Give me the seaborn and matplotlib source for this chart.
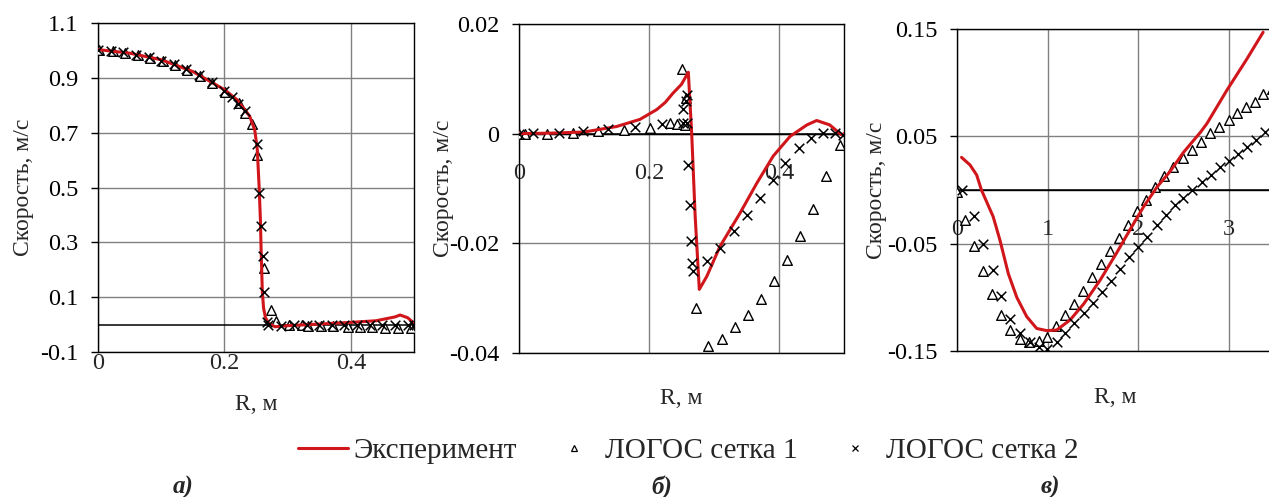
import numpy as np
import pandas as pd
import matplotlib
matplotlib.use("Agg")
import matplotlib.pyplot as plt
import seaborn as sns
from matplotlib.lines import Line2D

# ---------------- data ----------------
# а) radial profile, 0..0.5 m
a_exp_r = [0.0, 0.05, 0.1, 0.15, 0.2, 0.22, 0.24, 0.248, 0.252, 0.255, 0.257, 0.258,
           0.259, 0.26, 0.262, 0.265, 0.27, 0.28, 0.3, 0.35, 0.4, 0.44, 0.47, 0.478,
           0.49, 0.5]
a_exp_v = [1.003, 0.99, 0.966, 0.923, 0.857, 0.82, 0.76, 0.71, 0.64, 0.50, 0.38, 0.28,
           0.20, 0.12, 0.06, 0.025, 0.005, -0.008, -0.004, 0.002, 0.008, 0.014, 0.028, 0.035,
           0.025, 0.005]
a_g1_r = [0.002, 0.024, 0.043, 0.063, 0.083, 0.103, 0.122, 0.141, 0.162, 0.181, 0.201,
          0.223, 0.233, 0.243, 0.252, 0.263, 0.273, 0.282, 0.303, 0.323, 0.332, 0.353,
          0.372, 0.396, 0.414, 0.434, 0.454, 0.474, 0.496]
a_g1_v = [1.0, 0.997, 0.99, 0.984, 0.972, 0.96, 0.948, 0.93, 0.908, 0.88, 0.85,
          0.81, 0.77, 0.73, 0.62, 0.205, 0.052, 0.013, -0.003, -0.003, -0.005, -0.005,
          -0.006, -0.007, -0.008, -0.01, -0.012, -0.013, -0.013]
a_g2_r = [0.0, 0.02, 0.04, 0.06, 0.08, 0.1, 0.12, 0.14, 0.16, 0.18, 0.2, 0.212, 0.222,
          0.232, 0.2517, 0.2554, 0.258, 0.2607, 0.2633, 0.267, 0.2686, 0.29, 0.31, 0.33,
          0.35, 0.37, 0.39, 0.41, 0.43, 0.45, 0.47, 0.49, 0.5]
a_g2_v = [1.0, 0.998, 0.993, 0.985, 0.975, 0.963, 0.95, 0.932, 0.91, 0.884, 0.853, 0.83,
          0.806, 0.78, 0.66, 0.48, 0.36, 0.25, 0.12, 0.01, -0.003, -0.004, -0.003, -0.002,
          -0.002, -0.001, 0.0, 0.0, 0.0, 0.0, 0.0, 0.0, 0.0]

# б) radial profile, 0..0.5 m
b_exp_r = [0.0, 0.05, 0.1, 0.15, 0.186, 0.212, 0.225, 0.237, 0.25, 0.2605, 0.2657, 0.271,
           0.2774, 0.289, 0.309, 0.34, 0.366, 0.391, 0.417, 0.443, 0.458, 0.478, 0.496, 0.5]
b_exp_v = [0.0, 0.0001, 0.0003, 0.0013, 0.0026, 0.0044, 0.0057, 0.0074, 0.009, 0.0112, 0.0,
           -0.015, -0.0284, -0.026, -0.0206, -0.0145, -0.009, -0.0041, -0.0005, 0.0016,
           0.0024, 0.0016, -0.0002, 0.0]
b_g1_r = [0.0, 0.009, 0.043, 0.083, 0.121, 0.161, 0.2015, 0.232, 0.243, 0.251, 0.255,
          0.257, 0.272, 0.291, 0.312, 0.332, 0.352, 0.372, 0.392, 0.413, 0.433, 0.453,
          0.473, 0.494]
b_g1_v = [0.0, -0.0001, 0.0, 0.0002, 0.0004, 0.0007, 0.001, 0.002, 0.0017, 0.0118, 0.0015,
          0.0065, -0.0318, -0.0387, -0.0374, -0.0353, -0.033, -0.0302, -0.0268, -0.0231,
          -0.0186, -0.0137, -0.0078, -0.002]
b_g2_r = [0.0, 0.022, 0.062, 0.099, 0.137, 0.178, 0.2195, 0.252, 0.253, 0.257, 0.258,
          0.258, 0.2605, 0.263, 0.2646, 0.2657, 0.268, 0.289, 0.309, 0.33, 0.35, 0.37,
          0.39, 0.409, 0.43, 0.449, 0.467, 0.486, 0.499]
b_g2_v = [0.0, 0.0001, 0.0002, 0.0004, 0.0008, 0.0012, 0.0018, 0.002, 0.0045, 0.006,
          0.0071, 0.002, -0.0057, -0.013, -0.0196, -0.0236, -0.0251, -0.0233, -0.0208,
          -0.0178, -0.0149, -0.0117, -0.0084, -0.0053, -0.0026, -0.0008, 0.0001, 0.0001,
          -0.0002]

# в) radial profile, 0..3.5 m
c_exp_r = [0.05, 0.144, 0.217, 0.27, 0.40, 0.475, 0.567, 0.66, 0.77, 0.88, 0.99, 1.1, 1.25,
           1.40, 1.58, 1.76, 1.91, 2.06, 2.21, 2.35, 2.5, 2.69, 2.76, 2.98, 3.2, 3.38]
c_exp_v = [0.0304, 0.0233, 0.014, 0.0, -0.025, -0.047, -0.078, -0.1, -0.118, -0.129, -0.131,
           -0.1305, -0.121, -0.106, -0.084, -0.059, -0.037, -0.0156, 0.003, 0.017, 0.035,
           0.054, 0.062, 0.093, 0.122, 0.147]
c_g1_r = [0.0, 0.088, 0.188, 0.29, 0.39, 0.49, 0.59, 0.70, 0.80, 0.90, 0.99, 1.09, 1.19,
          1.29, 1.39, 1.49, 1.59, 1.69, 1.79, 1.89, 1.99, 2.09, 2.19, 2.28, 2.39, 2.49,
          2.59, 2.69, 2.79, 2.89, 3.0, 3.09, 3.19, 3.29, 3.38, 3.48]
c_g1_v = [-0.0016, -0.028, -0.052, -0.075, -0.097, -0.1165, -0.1305, -0.139, -0.142,
          -0.141, -0.137, -0.1265, -0.1165, -0.106, -0.094, -0.0815, -0.069, -0.057,
          -0.0445, -0.0327, -0.02, -0.0094, 0.003, 0.013, 0.021, 0.03, 0.037, 0.045, 0.053,
          0.059, 0.065, 0.072, 0.077, 0.082, 0.089, 0.094]
c_g2_r = [0.05, 0.188, 0.29, 0.395, 0.49, 0.59, 0.70, 0.81, 0.91, 0.99, 1.10, 1.19, 1.29,
          1.40, 1.50, 1.60, 1.70, 1.80, 1.90, 2.0, 2.10, 2.21, 2.31, 2.41, 2.50, 2.60,
          2.70, 2.80, 2.90, 3.0, 3.10, 3.20, 3.30, 3.40, 3.50]
c_g2_v = [0.0, -0.0243, -0.0504, -0.0746, -0.099, -0.12, -0.1336, -0.142, -0.1466, -0.1485,
          -0.1414, -0.1336, -0.124, -0.115, -0.1056, -0.0948, -0.0846, -0.074, -0.0628,
          -0.0529, -0.0436, -0.0327, -0.0233, -0.014, -0.007, 0.0, 0.007, 0.014, 0.021,
          0.027, 0.034, 0.040, 0.047, 0.054, 0.060]

series_names = ["Эксперимент", "ЛОГОС сетка 1", "ЛОГОС сетка 2"]
panel_tags = ["а)", "б)", "в)"]
y_label = "Скорость, м/с"
x_label = "R, м"

# ---------------- style ----------------
sns.set_style("white")
plt.rcParams["font.family"] = ["Liberation Serif", "DejaVu Serif"]

RED = "#d0161b"
GRID = "#808080"
TICK_FS = 17.5
LABEL_FS = 17

fig = plt.figure(figsize=(12.69, 4.97), dpi=100)
W, H = 1269.0, 497.0


def add_axes(left, top, right, bottom):
    return fig.add_axes([left / W, 1 - bottom / H, (right - left) / W, (bottom - top) / H])


ax_a = add_axes(98, 23, 414, 352)
ax_b = add_axes(519, 24, 844, 353)
ax_c = add_axes(957, 29, 1274, 351)


def draw_panel(ax, er, ev, g1r, g1v, g2r, g2v):
    sns.lineplot(x=er, y=ev, ax=ax, color=RED, lw=2.2, sort=False, zorder=5,
                 estimator=None)
    sns.scatterplot(x=g1r, y=g1v, ax=ax, marker="^", s=48, facecolor="white",
                    edgecolor="black", linewidth=1.0, zorder=4)
    sns.scatterplot(x=g2r, y=g2v, ax=ax, marker="x", s=48, color="black",
                    linewidth=1.1, zorder=6)


draw_panel(ax_a, a_exp_r, a_exp_v, a_g1_r, a_g1_v, a_g2_r, a_g2_v)
draw_panel(ax_b, b_exp_r, b_exp_v, b_g1_r, b_g1_v, b_g2_r, b_g2_v)
draw_panel(ax_c, c_exp_r, c_exp_v, c_g1_r, c_g1_v, c_g2_r, c_g2_v)

# limits and ticks
ax_a.set_xlim(0, 0.5)
ax_a.set_ylim(-0.1, 1.1)
ax_a.set_xticks([0, 0.2, 0.4])
ax_a.set_xticklabels(["0", "0.2", "0.4"])
ax_a.set_yticks([-0.1, 0.1, 0.3, 0.5, 0.7, 0.9, 1.1])
ax_a.set_yticklabels(["-0.1", "0.1", "0.3", "0.5", "0.7", "0.9", "1.1"])

ax_b.set_xlim(0, 0.5)
ax_b.set_ylim(-0.04, 0.02)
ax_b.set_xticks([0, 0.2, 0.4])
ax_b.set_xticklabels(["0", "0.2", "0.4"])
ax_b.set_yticks([-0.04, -0.02, 0, 0.02])
ax_b.set_yticklabels(["-0.04", "-0.02", "0", "0.02"])

ax_c.set_xlim(0, 3.5)
ax_c.set_ylim(-0.15, 0.15)
ax_c.set_xticks([0, 1, 2, 3])
ax_c.set_xticklabels(["0", "1", "2", "3"])
ax_c.set_yticks([-0.15, -0.05, 0.05, 0.15])
ax_c.set_yticklabels(["-0.15", "-0.05", "0.05", "0.15"])

for ax in (ax_a, ax_b, ax_c):
    ax.grid(True, color=GRID, lw=1.0)
    ax.set_axisbelow(True)
    for sp in ax.spines.values():
        sp.set_visible(True)
        sp.set_color("black")
        sp.set_linewidth(1.0)
    ax.axhline(0, color="black", lw=1.1, zorder=2)
    ax.tick_params(axis="y", which="major", direction="out", length=5, width=1,
                   pad=9, labelsize=TICK_FS, left=True, colors="black")
    ax.set_xlabel(x_label, fontsize=LABEL_FS)
    ax.set_ylabel(y_label, fontsize=LABEL_FS)
    ax.xaxis.label.set_va("center")
    ax.yaxis.label.set_va("center")

# panel а: x labels along the lower frame
ax_a.tick_params(axis="x", length=0, pad=1, labelsize=TICK_FS)

# panels б, в: x labels hang below the zero line
for ax in (ax_b, ax_c):
    lo = ax.get_ylim()[0]
    ax.spines["bottom"].set_position(("data", 0))
    ax.axhline(lo, color="black", lw=1.0, clip_on=False, zorder=3)
    ax.tick_params(axis="x", direction="out", length=4, width=1, pad=17,
                   labelsize=TICK_FS)

ax_a.xaxis.set_label_coords(0.5, -0.161)
ax_b.xaxis.set_label_coords(0.5, -0.137)
ax_c.xaxis.set_label_coords(0.5, -0.143)
ax_a.yaxis.set_label_coords(-0.236, 0.5)
ax_b.yaxis.set_label_coords(-0.232, 0.5)
ax_c.yaxis.set_label_coords(-0.253, 0.5)

# legend
handles = [
    Line2D([], [], color=RED, lw=2.2),
    Line2D([], [], ls="none", marker="^", ms=5, mfc="white", mec="black", mew=0.9),
    Line2D([], [], ls="none", marker="x", ms=5, color="black", mew=0.9),
]
fig.legend(handles, series_names, loc="center", bbox_to_anchor=(688 / W, 1 - 451 / H),
           ncol=3, frameon=False, fontsize=21, handlelength=1.72, handletextpad=0.2,
           columnspacing=1.1)

# panel tags
for tag, xc in zip(panel_tags, [183, 662, 1050]):
    fig.text(xc / W, 1 - 487 / H, tag, ha="center", va="center", fontsize=18,
             fontweight="bold", fontstyle="italic")

fig.savefig("out.png", dpi=100, facecolor="white")
